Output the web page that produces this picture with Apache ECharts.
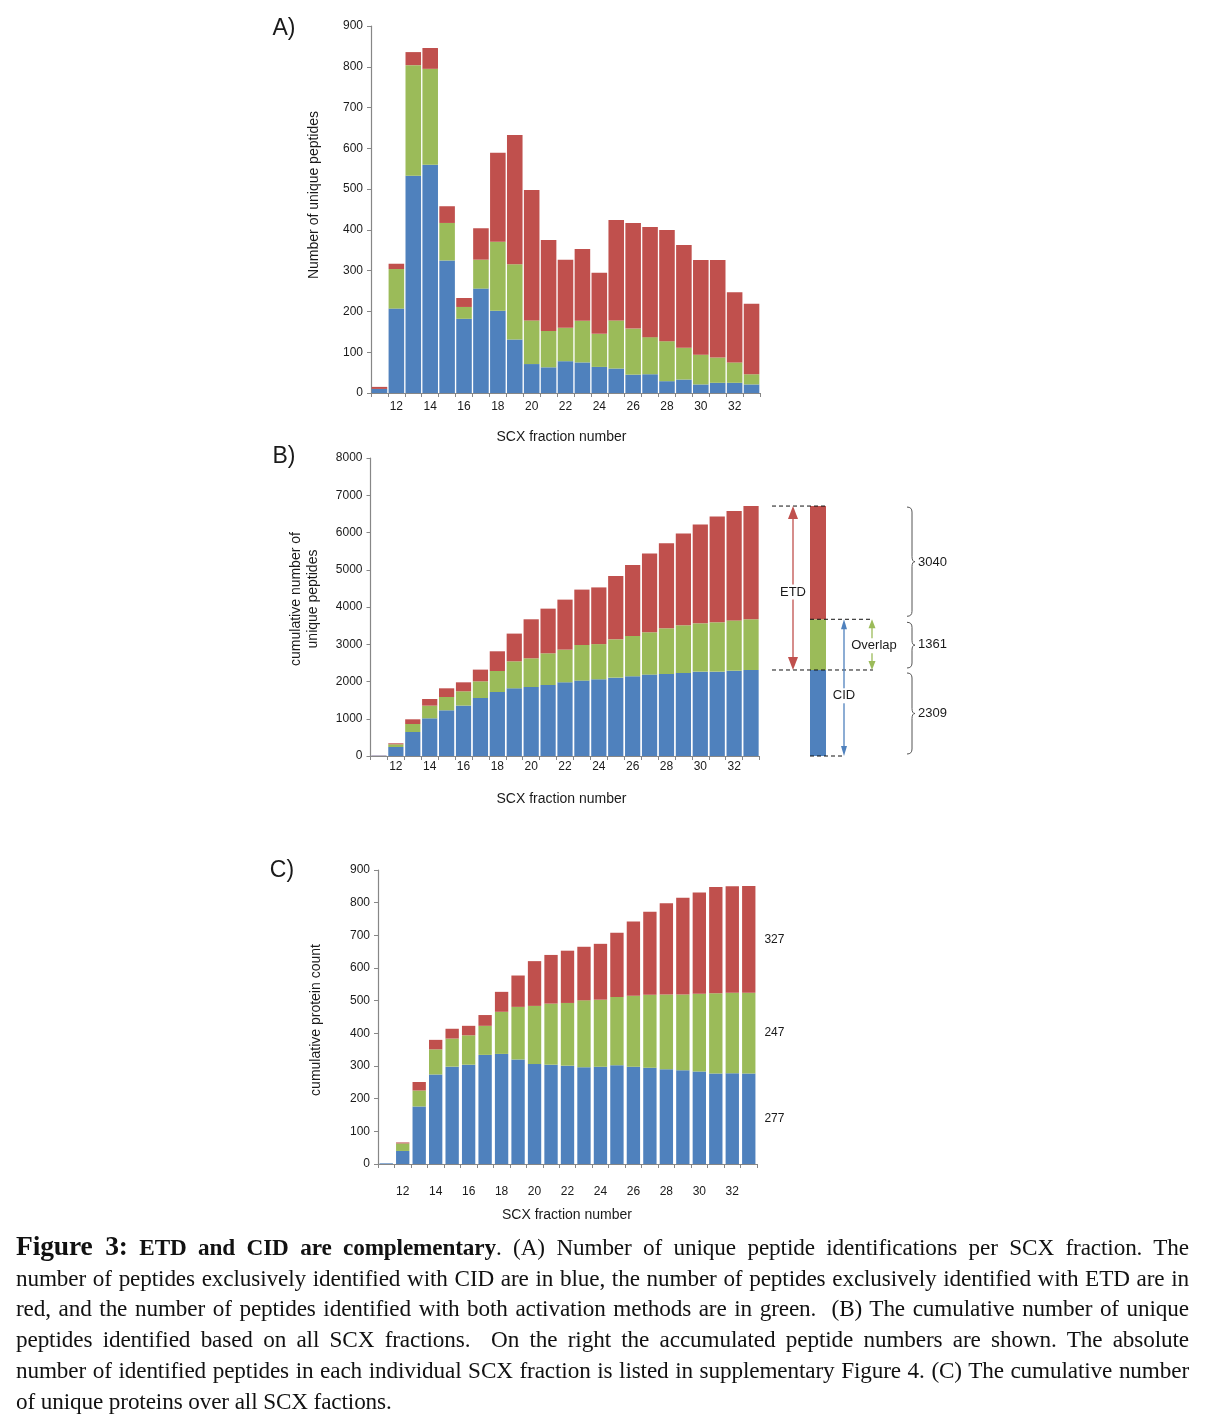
<!DOCTYPE html>
<html>
<head>
<meta charset="utf-8">
<script src="https://cdn.jsdelivr.net/npm/echarts@6/dist/echarts.min.js"></script>
<style>
html,body{margin:0;padding:0;background:#fff;}
#chart{position:absolute;left:0;top:0;width:1209px;height:1416px;}
#caption{position:absolute;left:16px;top:1231px;width:1173px;font-family:"Liberation Serif","Times New Roman",serif;font-size:23.2px;letter-spacing:-0.12px;line-height:30.7px;color:#111;}
#caption div{text-align:justify;text-align-last:justify;white-space:nowrap;}
#caption div.last{text-align:left;text-align-last:left;}
</style>
</head>
<body>
<div id="chart"></div>
<div id="caption">
<div><b style="font-size:27.5px">Figure 3:</b> <b>ETD and CID are complementary</b>. (A) Number of unique peptide identifications per SCX fraction. The</div>
<div>number of peptides exclusively identified with CID are in blue, the number of peptides exclusively identified with ETD are in</div>
<div>red, and the number of peptides identified with both activation methods are in green.&nbsp; (B) The cumulative number of unique</div>
<div>peptides identified based on all SCX fractions.&nbsp; On the right the accumulated peptide numbers are shown. The absolute</div>
<div>number of identified peptides in each individual SCX fraction is listed in supplementary Figure 4. (C) The cumulative number</div>
<div class="last">of unique proteins over all SCX factions.</div>
</div>
<script>
// ---------- data ----------
const fractions = ['11','12','13','14','15','16','17','18','19','20','21','22','23','24','25','26','27','28','29','30','31','32','33'];

// Panel A: unique peptides per SCX fraction
const cidA  = [10,207,533,560,325,182,256,202,131,71,63,78,75,64,60,45,46,29,33,21,25,25,21];
const bothA = [0,97,271,235,92,29,71,169,185,107,89,82,102,81,118,113,91,98,78,73,62,50,25];
const etdA  = [5,13,32,51,41,22,77,218,317,320,223,167,176,150,246,259,270,273,252,232,239,172,173];

// Panel B: cumulative unique peptides
const cidB  = [10,242,644,1012,1227,1353,1557,1718,1817,1853,1906,1978,2024,2059,2104,2140,2185,2201,2228,2265,2265,2290,2309];
const bothB = [0,72,215,340,357,384,448,564,725,770,851,878,956,945,1028,1082,1136,1227,1281,1297,1324,1350,1361];
const etdB  = [5,27,126,178,233,241,314,529,744,1047,1199,1342,1487,1522,1701,1906,2112,2282,2461,2650,2838,2935,3040];

// Panel B summary bar: [CID only, Overlap, ETD only]
const summaryNames  = ['CID', 'Overlap', 'ETD'];
const summaryValues = [2309, 1361, 3040];

// Panel C: cumulative protein count
const cidC  = [2,40,176,274,298,304,334,337,320,306,304,301,296,298,302,298,295,290,287,283,277,278,277];
const bothC = [0,23,49,77,86,90,89,129,161,178,187,192,205,205,209,217,223,229,232,238,246,246,247];
const etdC  = [0,3,26,29,30,29,33,61,96,137,149,160,164,171,197,227,254,279,296,310,325,326,327];

const ticksA = [0,100,200,300,400,500,600,700,800,900];
const ticksB = [0,1000,2000,3000,4000,5000,6000,7000,8000];
const ticksC = [0,100,200,300,400,500,600,700,800,900];

// ---------- style ----------
const BLUE = '#4F81BD', GREEN = '#9BBB59', RED = '#C0504D';
const AXIS = '#878787';
const FONT = '"Liberation Sans", Arial, sans-serif';

const chart = echarts.init(document.getElementById('chart'), null, {renderer: 'canvas'});

function xAxisCfg(gridIndex, margin) {
  return {
    type: 'category', gridIndex, data: fractions,
    axisLine: {show: true, lineStyle: {color: AXIS, width: 1.2}},
    axisTick: {show: true, interval: 0, length: 4, lineStyle: {color: AXIS}},
    axisLabel: {interval: (i) => i % 2 === 1, margin, fontSize: 12, color: '#1a1a1a', fontFamily: FONT},
    splitLine: {show: false}
  };
}
function yAxisCfg(gridIndex, ticks) {
  return {
    type: 'value', gridIndex, min: ticks[0], max: ticks[ticks.length - 1], interval: ticks[1] - ticks[0],
    axisLine: {show: true, lineStyle: {color: AXIS, width: 1.2}},
    axisTick: {show: true, length: 4, lineStyle: {color: AXIS}},
    axisLabel: {margin: 8, fontSize: 12, color: '#1a1a1a', fontFamily: FONT, formatter: (v) => String(v)},
    splitLine: {show: false}
  };
}
function stackSeries(idx, stack, gap, arrs, withLabels) {
  const colors = [BLUE, GREEN, RED];
  return arrs.map((arr, k) => ({
    type: 'bar', xAxisIndex: idx, yAxisIndex: idx, stack,
    barCategoryGap: gap,
    itemStyle: {color: colors[k]},
    emphasis: {disabled: true},
    data: arr.map((v, i) => {
      if (withLabels && i === arr.length - 1) {
        return {value: v, label: {show: true, position: 'right', distance: 9, fontSize: 12, color: '#1a1a1a', fontFamily: FONT, formatter: '{c}'}};
      }
      return v;
    })
  }));
}

const option = {
  animation: false,
  textStyle: {fontFamily: FONT},
  grid: [
    {left: 371, top: 26, width: 389, height: 367},
    {left: 370.5, top: 458, width: 389, height: 298},
    {left: 802, top: 458, width: 32, height: 298},
    {left: 378, top: 870, width: 379, height: 294}
  ],
  xAxis: [
    xAxisCfg(0, 8),
    xAxisCfg(1, 5),
    {type: 'category', gridIndex: 2, data: ['total'], show: false},
    xAxisCfg(3, 22)
  ],
  yAxis: [
    yAxisCfg(0, ticksA),
    yAxisCfg(1, ticksB),
    {type: 'value', gridIndex: 2, min: ticksB[0], max: ticksB[ticksB.length - 1], show: false},
    yAxisCfg(3, ticksC)
  ],
  series: [
    ...stackSeries(0, 'A', '8%', [cidA, bothA, etdA], false),
    ...stackSeries(1, 'B', '10%', [cidB, bothB, etdB], false),
    ...summaryValues.map((v, k) => ({
      type: 'bar', name: summaryNames[k], xAxisIndex: 2, yAxisIndex: 2, stack: 'S', barWidth: 16,
      itemStyle: {color: [BLUE, GREEN, RED][k]}, emphasis: {disabled: true}, data: [v]
    })),
    ...stackSeries(3, 'C', '19%', [cidC, bothC, etdC], true)
  ]
};
chart.setOption(option);

// ---------- annotations ----------
function txt(x, y, text, size, extra) {
  return {type: 'text', x, y, z: 100,
    style: Object.assign({text, fontSize: size, fontFamily: FONT, fill: '#1a1a1a', align: 'center', verticalAlign: 'middle'}, extra || {})};
}
function rtxt(x, y, text, size) {
  return {type: 'text', x, y, rotation: Math.PI / 2, z: 100,
    style: {text, fontSize: size, fontFamily: FONT, fill: '#1a1a1a', align: 'center', verticalAlign: 'middle', lineHeight: 17}};
}
function dash(x1, x2, y) {
  return {type: 'line', z: 100, shape: {x1, y1: y, x2, y2: y}, style: {stroke: '#111', lineWidth: 1, lineDash: [4, 3]}};
}
function arrow(x, yTop, yBot, color, hw, hh) {
  return [
    {type: 'line', z: 100, shape: {x1: x, y1: yTop + hh - 1, x2: x, y2: yBot - hh + 1}, style: {stroke: color, lineWidth: 1.3}},
    {type: 'polygon', z: 100, shape: {points: [[x, yTop], [x - hw / 2, yTop + hh], [x + hw / 2, yTop + hh]]}, style: {fill: color}},
    {type: 'polygon', z: 100, shape: {points: [[x, yBot], [x - hw / 2, yBot - hh], [x + hw / 2, yBot - hh]]}, style: {fill: color}}
  ];
}
function curve(x1, y1, cx, cy, x2, y2) {
  return {type: 'bezierCurve', z: 100, shape: {x1, y1, x2, y2, cpx1: cx, cpy1: cy}, style: {stroke: '#555', lineWidth: 1, fill: null}};
}
function seg(x1, y1, x2, y2) {
  return {type: 'line', z: 100, shape: {x1, y1, x2, y2}, style: {stroke: '#555', lineWidth: 1}};
}
function brace(x, y1, y2, w) {
  const m = (y1 + y2) / 2, r = 5, b = x + w;
  return [
    curve(x, y1, b, y1, b, y1 + r),
    seg(b, y1 + r, b, m - r),
    curve(b, m - r, b, m, b + 3, m),
    curve(b + 3, m, b, m, b, m + r),
    seg(b, m + r, b, y2 - r),
    curve(b, y2 - r, b, y2, x, y2)
  ];
}

const yS = v => chart.convertToPixel({yAxisIndex: 2}, v);
const xc = chart.convertToPixel({xAxisIndex: 2}, 0);
const s1 = summaryValues[0], s2 = s1 + summaryValues[1], s3 = s2 + summaryValues[2];
const pTop = yS(s3), pMid = yS(s2), pLow = yS(s1), p0 = yS(0);

const g = [
  txt(284, 29, 'A)', 23), txt(284, 457, 'B)', 23), txt(282, 871, 'C)', 23),
  rtxt(314, 195, 'Number of unique peptides', 14),
  rtxt(304.5, 599, 'cumulative number of\nunique peptides', 14),
  rtxt(316, 1020, 'cumulative protein count', 14),
  txt(561.5, 437, 'SCX fraction number', 14),
  txt(561.5, 799, 'SCX fraction number', 14),
  txt(567, 1215, 'SCX fraction number', 14),
  dash(xc - 46, xc + 8, pTop),
  dash(xc - 8, xc + 55, pMid),
  dash(xc - 46, xc + 55, pLow),
  dash(xc - 8, xc + 25, p0),
  ...arrow(xc - 25, pTop, pLow, RED, 10, 13),
  ...arrow(xc + 26, pMid, p0, BLUE, 6, 10),
  ...arrow(xc + 54, pMid, pLow, GREEN, 7, 9),
  txt(xc - 25, (pTop + pLow) / 2 + 4, 'ETD', 13, {backgroundColor: '#fff', padding: [1, 1]}),
  txt(xc + 26, yS(s1 * 0.7), 'CID', 13, {backgroundColor: '#fff', padding: [1, 1]}),
  txt(xc + 56, (pMid + pLow) / 2 + 1, 'Overlap', 13, {backgroundColor: '#fff', padding: [1, 0]}),
  ...brace(xc + 89, pTop + 1, pMid - 3, 5),
  ...brace(xc + 89, pMid + 3, pLow - 2, 5),
  ...brace(xc + 89, pLow + 3, p0 - 2, 5),
  txt(xc + 100, (pTop + pMid) / 2, String(summaryValues[2]), 13, {align: 'left'}),
  txt(xc + 100, (pMid + pLow) / 2, String(summaryValues[1]), 13, {align: 'left'}),
  txt(xc + 100, (pLow + p0) / 2, String(summaryValues[0]), 13, {align: 'left'})
];
chart.setOption({graphic: {elements: g}});
</script>
</body>
</html>
